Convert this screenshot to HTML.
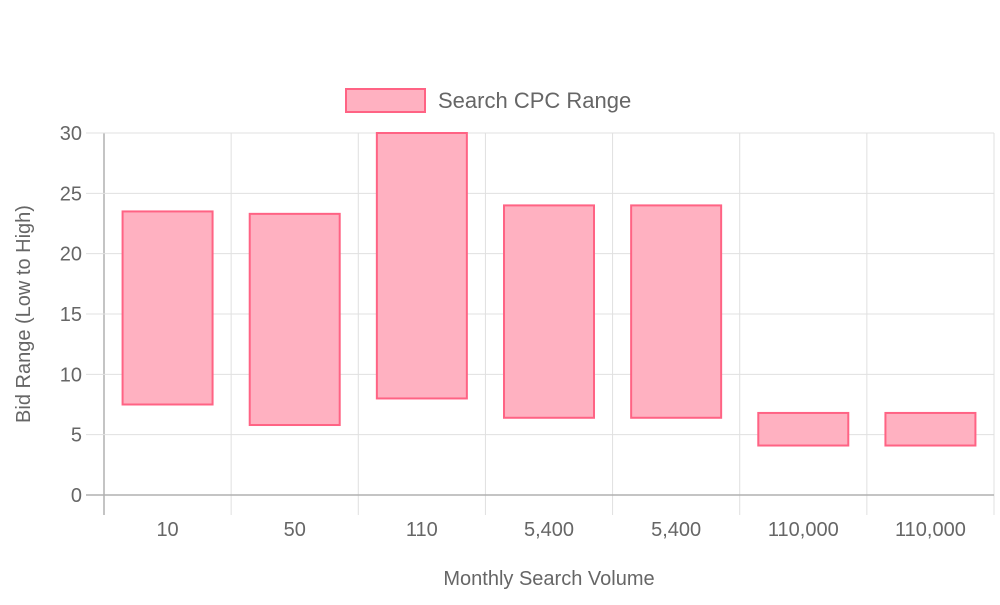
<!DOCTYPE html>
<html><head><meta charset="utf-8"><style>
body{margin:0;background:#fff;}
svg text{font-family:"Liberation Sans",sans-serif;fill:#666;}
</style></head><body>
<svg id="c" width="1000" height="600" xmlns="http://www.w3.org/2000/svg"></svg>
<script>
const categories=["10","50","110","5,400","5,400","110,000","110,000"];
const lows=[7.5,5.8,8,6.4,6.4,4.1,4.1];
const highs=[23.5,23.3,30,24,24,6.8,6.8];
const yTicks=[0,5,10,15,20,25,30];
const svg=document.getElementById('c');
const NS='http://www.w3.org/2000/svg';
const X0=104,X1=994,Y0=495,Y1=133,YMAX=30;
const bw=(X1-X0)/categories.length;
const y=v=>Y0-(v/YMAX)*(Y0-Y1);
const xc=i=>X0+bw*(i+0.5);
function mk(t,a,p){const e=document.createElementNS(NS,t);for(const k in a)e.setAttribute(k,a[k]);(p||svg).appendChild(e);return e;}
// vertical grid
for(let i=0;i<=categories.length;i++){
 const gx=X0+bw*i;
 const l=mk('line',{x1:gx,x2:gx,y1:Y1,y2:515,stroke:i==0?'#b0b0b0':'#e0e0e0','stroke-width':i==0?1.5:1});
 
 
}
yTicks.forEach(t=>{
 const gy=y(t);
 const l=mk('line',{x1:86,x2:X1,y1:gy,y2:gy,stroke:t==0?'#b0b0b0':'#e0e0e0','stroke-width':t==0?1.5:1});
 
 
 const tx=mk('text',{x:82,y:gy+7,'text-anchor':'end','font-size':20});
 tx.textContent=t;
 
 
});
categories.forEach((c,i)=>{
 const r=mk('rect',{x:xc(i)-45,y:y(highs[i]),width:90,height:y(lows[i])-y(highs[i]),fill:'#ffb1c1',stroke:'#ff6384','stroke-width':2});
 
 
 const tx=mk('text',{x:xc(i),y:536,'text-anchor':'middle','font-size':20});
 tx.textContent=c;
 
 
});
const xt=mk('text',{x:549,y:585,'text-anchor':'middle','font-size':20});
xt.textContent='Monthly Search Volume';


const yt=mk('text',{x:0,y:0,'text-anchor':'middle','font-size':20,transform:'translate(30,314) rotate(-90)'});
yt.textContent='Bid Range (Low to High)';


const lg=mk('g',{});


mk('rect',{x:346,y:89,width:79,height:23,fill:'#ffb1c1',stroke:'#ff6384','stroke-width':2},lg);
const lt=mk('text',{x:438,y:108,'font-size':22},lg);
lt.textContent='Search CPC Range';
</script>
</body></html>
